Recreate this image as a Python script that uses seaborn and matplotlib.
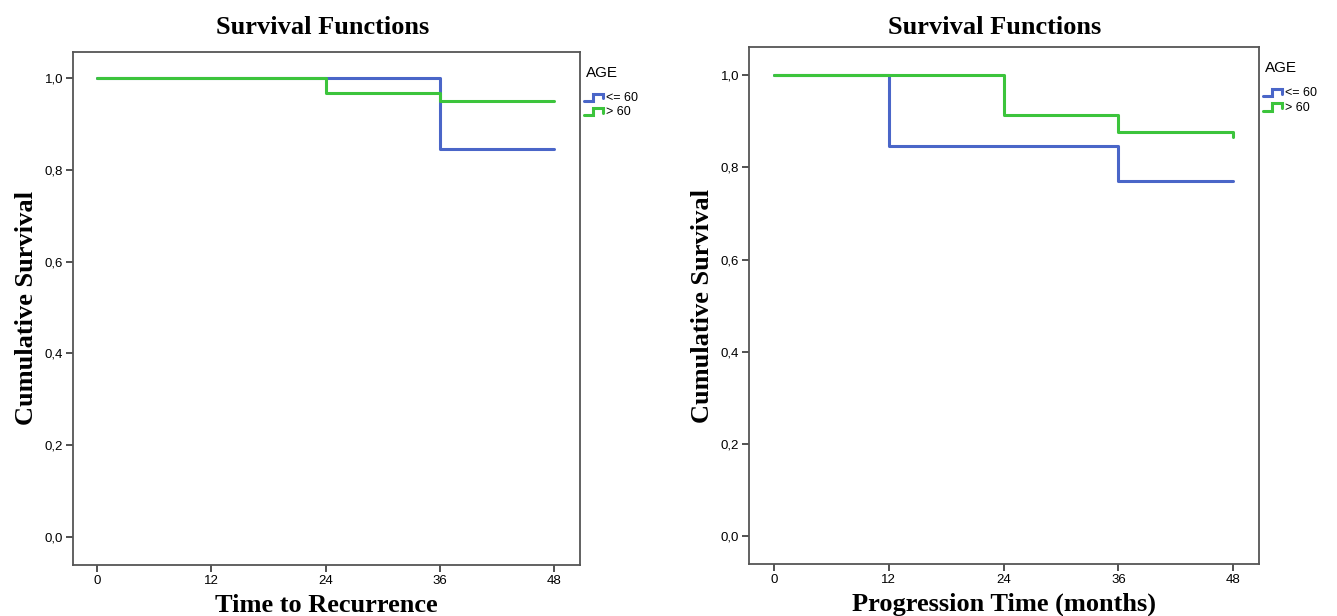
# Kaplan-Meier curves by age group: recurrence and progression

import numpy as np
import pandas as pd
import matplotlib
matplotlib.use("Agg")
import matplotlib.pyplot as plt
import seaborn as sns
from matplotlib.legend_handler import HandlerBase
from matplotlib.lines import Line2D
from matplotlib.ticker import FuncFormatter

# --- data --------------------------------------------------------------------

groups = ["<= 60", "> 60"]

rec_time_young = [0, 36, 48]
rec_surv_young = [1.0, 0.846, 0.846]
rec_time_old = [0, 24, 36, 48]
rec_surv_old = [1.0, 0.967, 0.951, 0.951]

prog_time_young = [0, 12, 36, 48]
prog_surv_young = [1.0, 0.847, 0.770, 0.770]
prog_time_old = [0, 24, 36, 48, 48]
prog_surv_old = [1.0, 0.913, 0.877, 0.877, 0.866]

x_ticks = [0, 12, 24, 36, 48]
y_ticks = [0.0, 0.2, 0.4, 0.6, 0.8, 1.0]

colors = {"<= 60": "#4a66c8", "> 60": "#3cc43c"}


def make_frame(t_young, s_young, t_old, s_old):
    return pd.DataFrame({
        "time": t_young + t_old,
        "surv": s_young + s_old,
        "AGE": [groups[0]] * len(t_young) + [groups[1]] * len(t_old),
    })


recurrence = make_frame(rec_time_young, rec_surv_young, rec_time_old, rec_surv_old)
progression = make_frame(prog_time_young, prog_surv_young, prog_time_old, prog_surv_old)


class StepHandler(HandlerBase):
    # small SPSS-style step icon for the legend
    def create_artists(self, legend, orig_handle, xdescent, ydescent,
                       width, height, fontsize, trans):
        x0 = -xdescent
        y0 = -ydescent
        xs = np.array([0.0, 0.45, 0.45, 0.95, 0.95]) * width + x0
        ys = np.array([0.1, 0.1, 0.8, 0.8, 0.35]) * height + y0
        line = Line2D(xs, ys, color=orig_handle.get_color(), lw=2.2,
                      solid_joinstyle="miter", transform=trans)
        return [line]


sns.set_style("white")
plt.rcParams["font.family"] = ["Liberation Sans", "DejaVu Sans"]
plt.rcParams["text.color"] = "black"
plt.rcParams["axes.labelcolor"] = "black"
plt.rcParams["xtick.color"] = "black"
plt.rcParams["ytick.color"] = "black"

fig = plt.figure(figsize=(13.37, 6.16), dpi=100)
ax1 = fig.add_axes([0.0546, 0.0828, 0.3792, 0.8328])
ax2 = fig.add_axes([0.5602, 0.0844, 0.3815, 0.8390])

panels = [
    (ax1, recurrence, "Time to Recurrence", (-2.52, 50.7), (-0.061, 1.057), 0.2416),
    (ax2, progression, "Progression Time (months)", (-2.61, 50.7), (-0.061, 1.061), 0.7442),
]

serif = ["Liberation Serif", "DejaVu Serif"]
comma = FuncFormatter(lambda v, pos: f"{v:.1f}".replace(".", ","))

for ax, df, xlabel, xlim, ylim, title_x in panels:
    sns.lineplot(data=df, x="time", y="surv", hue="AGE", hue_order=groups,
                 palette=colors, drawstyle="steps-post", estimator=None,
                 sort=False, lw=2.2, legend=False, ax=ax)
    ax.set_xlim(*xlim)
    ax.set_ylim(*ylim)
    ax.set_xticks(x_ticks)
    ax.set_yticks(y_ticks)
    ax.yaxis.set_major_formatter(comma)
    ax.tick_params(axis="both", which="major", direction="out", length=5,
                   width=1.2, color="#333333", labelsize=9.5, pad=2,
                   bottom=True, left=True)
    for s in ax.spines.values():
        s.set_color("#555555")
        s.set_linewidth(1.3)
    fig.text(title_x, 0.955, "Survival Functions", family=serif,
             fontweight="bold", fontsize=19, ha="center", va="center")
    ax.set_xlabel(xlabel, family=serif, fontweight="bold", fontsize=19, labelpad=5)
    ax.set_ylabel("Cumulative Survival", family=serif, fontweight="bold",
                  fontsize=19, labelpad=5)

    # legend: title as its own text, step icons below it
    ax.text(1.012, 0.96, "AGE", transform=ax.transAxes, fontsize=11,
            ha="left", va="center")
    handles = [Line2D([], [], color=colors[g]) for g in groups]
    ax.legend(handles, groups, loc="upper left",
              bbox_to_anchor=(1.003, 0.928), frameon=False,
              handler_map={Line2D: StepHandler()}, fontsize=9,
              handlelength=1.6, handleheight=0.9,
              handletextpad=0.15, labelspacing=0.15,
              borderaxespad=0.0, borderpad=0.2)

fig.savefig("out.png", dpi=100)
